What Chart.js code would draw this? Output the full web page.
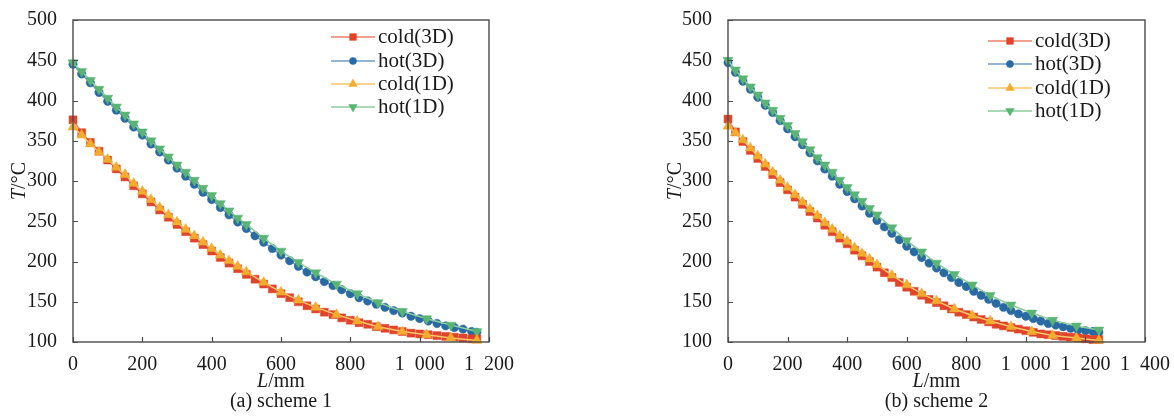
<!DOCTYPE html>
<html>
<head>
<meta charset="utf-8">
<script src="https://cdn.jsdelivr.net/npm/chart.js@4.4.1/dist/chart.umd.min.js"></script>
<style>
  body { margin: 0; background: #fff; width: 1174px; height: 417px; overflow: hidden; }
  .box { position: absolute; top: 0; width: 587px; height: 417px; }
</style>
</head>
<body>
<div class="box" style="left:0"><canvas id="chartA" width="587" height="417"></canvas></div>
<div class="box" style="left:587px"><canvas id="chartB" width="587" height="417"></canvas></div>
<script>
// ---- data ----
const seriesNames = ['cold(3D)', 'hot(3D)', 'cold(1D)', 'hot(1D)'];
const yTicks = [100, 150, 200, 250, 300, 350, 400, 450, 500];
const xTicksA = [0, 200, 400, 600, 800, 1000, 1200];
const xTicksB = [0, 200, 400, 600, 800, 1000, 1200, 1400];

// (a) scheme 1
const L3D_a = [0, 25, 50, 75, 100, 125, 150, 175, 200, 225, 250, 275, 300, 325, 350, 375, 400, 425, 450, 475,
  500, 525, 550, 575, 600, 625, 650, 675, 700, 725, 750, 775, 800, 825, 850, 875, 900, 925, 950, 975,
  1000, 1025, 1050, 1075, 1100, 1125, 1150, 1165];
const hot3D_a = [445, 433, 422, 410, 399, 388, 378, 367, 357, 346, 336, 326, 316, 306, 296, 286, 277, 267, 258, 249,
  241, 232, 224, 216, 208, 201, 194, 187, 181, 175, 170, 165, 160, 155, 151, 147, 143, 139, 136, 132,
  129, 126, 123, 120, 118, 116, 113, 112];
const cold3D_a = [376, 360, 348, 337, 326, 315, 305, 294, 284, 274, 264, 255, 246, 237, 229, 221, 213, 205, 198, 191,
  184, 178, 172, 166, 160, 155, 150, 145, 141, 137, 134, 130, 127, 124, 122, 119, 117, 115, 113, 111,
  110, 109, 108, 107, 106, 105, 104, 104];
const L1D_a = [0, 25, 50, 75, 100, 125, 150, 175, 200, 225, 250, 275, 300, 325, 350, 375, 400, 425, 450, 475,
  500, 550, 600, 650, 700, 760, 820, 880, 950, 1020, 1090, 1165];
const hot1D_a = [447, 436, 425, 414, 403, 392, 382, 371, 361, 350, 340, 330, 320, 311, 301, 291, 282, 272, 263, 254,
  246, 229, 213, 199, 186, 172, 160, 149, 138, 129, 121, 113];
const cold1D_a = [367, 357, 346, 336, 327, 317, 308, 297, 287, 277, 267, 258, 249, 240, 232, 224, 216, 208, 201, 194,
  187, 174, 162, 152, 143, 134, 126, 119, 113, 109, 105, 102];

// (b) scheme 2
const L3D_b = [0, 25, 50, 75, 100, 125, 150, 175, 200, 225, 250, 275, 300, 325, 350, 375, 400, 425, 450, 475,
  500, 525, 550, 575, 600, 625, 650, 675, 700, 725, 750, 775, 800, 825, 850, 875, 900, 925, 950, 975,
  1000, 1025, 1050, 1075, 1100, 1125, 1150, 1175, 1200, 1225, 1245];
const hot3D_b = [447, 435, 424, 414, 404, 394, 385, 375, 365, 355, 345, 335, 325, 315, 306, 296, 287, 278, 269, 260,
  251, 243, 235, 227, 219, 212, 205, 198, 192, 186, 180, 174, 169, 163, 158, 153, 148, 143, 139, 135,
  132, 129, 126, 123, 121, 119, 117, 115, 114, 113, 112];
const cold3D_b = [377, 361, 349, 338, 328, 318, 308, 298, 289, 280, 271, 262, 254, 245, 237, 229, 222, 214, 207, 200,
  193, 186, 180, 174, 168, 163, 158, 153, 149, 145, 141, 137, 134, 131, 128, 125, 122, 120, 118, 116,
  114, 112, 110, 109, 108, 107, 106, 105, 104, 103, 103];
const L1D_b = [0, 25, 50, 75, 100, 125, 150, 175, 200, 225, 250, 275, 300, 325, 350, 375, 400, 425, 450, 475,
  500, 550, 600, 650, 700, 760, 820, 880, 950, 1020, 1090, 1170, 1245];
const hot1D_b = [450, 438, 427, 417, 407, 397, 388, 378, 369, 359, 349, 339, 329, 320, 311, 301, 292, 283, 275, 266,
  258, 242, 226, 212, 198, 184, 171, 158, 146, 136, 127, 120, 115];
const cold1D_b = [368, 360, 351, 341, 331, 321, 311, 301, 292, 283, 274, 265, 257, 248, 240, 232, 225, 217, 210, 203,
  196, 183, 171, 160, 151, 141, 133, 126, 119, 113, 108, 105, 102];

// ---- styling ----
const serif = '"Liberation Serif", "Times New Roman", serif';
const textColor = '#1a1a1a';
const styles = [
  { marker: '#e0442a', line: '#ee8068', pointStyle: 'rect', radius: 5.6, rotation: 0, order: 1 },
  { marker: '#2a6aa3', line: '#6f9cc6', pointStyle: 'circle', radius: 4.2, rotation: 0, order: 1 },
  { marker: '#f2ac2e', line: '#f7c66c', pointStyle: 'triangle', radius: 5.8, rotation: 0, order: 0 },
  { marker: '#5ab574', line: '#8dcd9d', pointStyle: 'triangle', radius: 5.8, rotation: 180, order: 0 }
];

function toPoints(xs, ys) {
  return xs.map((x, i) => ({ x: x, y: ys[i] }));
}

function makeDatasets(seriesList) {
  return seriesList.map((pts, i) => ({
    label: seriesNames[i],
    data: pts,
    borderColor: styles[i].line,
    borderWidth: 1.5,
    backgroundColor: styles[i].marker,
    pointBackgroundColor: styles[i].marker,
    pointBorderColor: styles[i].marker,
    pointBorderWidth: 0.5,
    pointStyle: styles[i].pointStyle,
    pointRadius: styles[i].radius,
    pointRotation: styles[i].rotation,
    tension: 0,
    clip: false,
    order: styles[i].order
  }));
}

// frame, inward ticks, axis titles, legend and caption
const framePlugin = {
  id: 'frame',
  afterDraw(chart, args, opts) {
    const ctx = chart.ctx;
    const a = chart.chartArea;
    const xs = chart.scales.x, ys = chart.scales.y;
    ctx.save();
    ctx.strokeStyle = '#4a4a4a';
    ctx.lineWidth = 1.4;
    ctx.strokeRect(a.left, a.top, a.right - a.left, a.bottom - a.top);
    ctx.lineWidth = 1.2;
    ctx.beginPath();
    xs.ticks.forEach(t => {
      const px = Math.round(xs.getPixelForValue(t.value)) + 0.5;
      ctx.moveTo(px, a.bottom); ctx.lineTo(px, a.bottom - 5);
    });
    ys.ticks.forEach(t => {
      const py = Math.round(ys.getPixelForValue(t.value)) + 0.5;
      ctx.moveTo(a.left, py); ctx.lineTo(a.left + 5, py);
    });
    ctx.stroke();

    ctx.fillStyle = textColor;
    ctx.textBaseline = 'middle';
    // x title: italic L + /mm
    const cx = (a.left + a.right) / 2;
    ctx.font = 'italic 20px ' + serif;
    const wL = ctx.measureText('L').width;
    ctx.font = '20px ' + serif;
    const wR = ctx.measureText('/mm').width;
    const sx = cx - (wL + wR) / 2;
    ctx.textAlign = 'left';
    ctx.font = 'italic 20px ' + serif;
    ctx.fillText('L', sx, 382);
    ctx.font = '20px ' + serif;
    ctx.fillText('/mm', sx + wL, 382);

    // caption
    ctx.textAlign = 'center';
    ctx.fillText(opts.caption, cx, 402);

    // y title, rotated: italic T + /°C
    ctx.save();
    ctx.translate(opts.yTitleX, 181);
    ctx.rotate(-Math.PI / 2);
    ctx.font = 'italic 20px ' + serif;
    const wT = ctx.measureText('T').width;
    ctx.font = '20px ' + serif;
    const wC = ctx.measureText('/°C').width;
    ctx.textAlign = 'left';
    ctx.font = 'italic 20px ' + serif;
    ctx.fillText('T', -(wT + wC) / 2, 0);
    ctx.font = '20px ' + serif;
    ctx.fillText('/°C', -(wT + wC) / 2 + wT, 0);
    ctx.restore();

    // legend inside plot
    chart.data.datasets.forEach((ds, i) => {
      const y = opts.legendRows[i];
      ctx.strokeStyle = ds.borderColor;
      ctx.lineWidth = 1.5;
      ctx.beginPath();
      ctx.moveTo(opts.legendX, y); ctx.lineTo(opts.legendX + 44, y);
      ctx.stroke();
      ctx.fillStyle = ds.pointBackgroundColor;
      ctx.strokeStyle = ds.pointBorderColor;
      ctx.lineWidth = 0.5;
      Chart.helpers.drawPoint(ctx, {
        pointStyle: ds.pointStyle, radius: ds.pointRadius * 0.85, rotation: ds.pointRotation, borderWidth: 0.5
      }, opts.legendX + 22, y);
      ctx.fillStyle = textColor;
      ctx.font = '21px ' + serif;
      ctx.textAlign = 'left';
      ctx.fillText(ds.label, opts.legendX + 47, y);
    });
    ctx.restore();
  }
};

function fmtTick(v) {
  return v >= 1000 ? String(v).replace(/\B(?=(\d{3})+(?!\d))/g, '\u2002') : String(v);
}

function buildChart(id, seriesList, xMax, xTicks, pad, yWidth, caption, legendX, legendRows, yTitleX) {
  return new Chart(document.getElementById(id), {
    type: 'line',
    data: { datasets: makeDatasets(seriesList) },
    options: {
      responsive: false,
      animation: false,
      layout: { padding: { top: 20, right: pad, left: 0, bottom: 0 } },
      plugins: {
        legend: { display: false },
        tooltip: { enabled: false },
        frame: { caption: caption, legendX: legendX, legendRows: legendRows, yTitleX: yTitleX }
      },
      scales: {
        x: {
          type: 'linear', min: 0, max: xMax,
          grid: { display: false },
          border: { display: false },
          afterBuildTicks: s => { s.ticks = xTicks.map(v => ({ value: v })); },
          afterFit: s => { s.height = 75; },
          ticks: {
            color: textColor, font: { family: serif, size: 20 }, padding: 3,
            maxRotation: 0, autoSkip: false, callback: v => fmtTick(v)
          }
        },
        y: {
          type: 'linear', min: 100, max: 500,
          grid: { display: false },
          border: { display: false },
          afterBuildTicks: s => { s.ticks = yTicks.map(v => ({ value: v })); },
          afterFit: s => { s.width = yWidth; },
          ticks: { color: textColor, font: { family: serif, size: 20 }, padding: 8 }
        }
      }
    },
    plugins: [framePlugin]
  });
}

buildChart('chartA',
  [toPoints(L3D_a, cold3D_a), toPoints(L3D_a, hot3D_a), toPoints(L1D_a, cold1D_a), toPoints(L1D_a, hot1D_a)],
  1200, xTicksA, 98, 73, '(a) scheme 1', 331, [37, 61, 84, 107], 20);

buildChart('chartB',
  [toPoints(L3D_b, cold3D_b), toPoints(L3D_b, hot3D_b), toPoints(L1D_b, cold1D_b), toPoints(L1D_b, hot1D_b)],
  1400, xTicksB, 29, 141, '(b) scheme 2', 401, [41, 64, 88, 111], 89);
</script>
</body>
</html>
